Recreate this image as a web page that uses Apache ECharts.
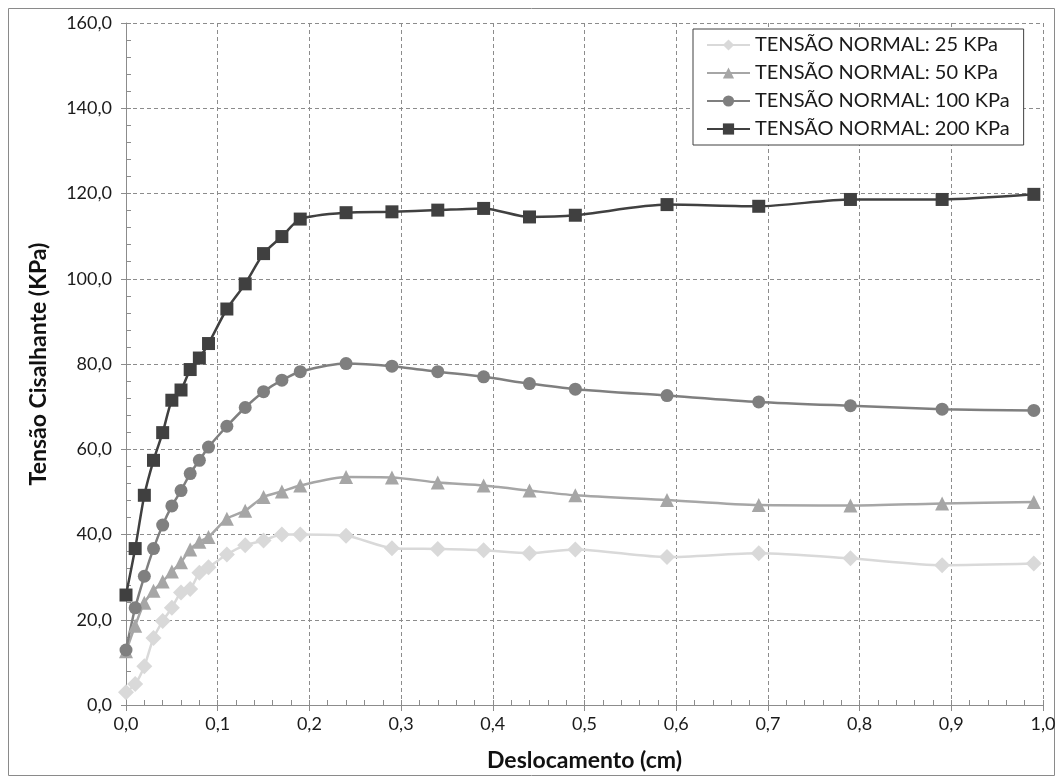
<!DOCTYPE html>
<html>
<head>
<meta charset="utf-8">
<script src="https://cdn.jsdelivr.net/npm/echarts@6/dist/echarts.min.js"></script>
<style>
  html, body { margin: 0; padding: 0; background: #fff; }
  #chart { width: 1063px; height: 784px; }
</style>
</head>
<body>
<div id="chart"></div>
<script>
// deslocamento (cm)
var desloc = [0, 0.01, 0.02, 0.03, 0.04, 0.05, 0.06, 0.07, 0.08, 0.09, 0.11, 0.13, 0.15, 0.17, 0.19,
              0.24, 0.29, 0.34, 0.39, 0.44, 0.49, 0.59, 0.69, 0.79, 0.89, 0.99]

// tensão cisalhante (KPa) para cada tensão normal
var t25  = [3.0, 4.9, 9.1, 15.7, 19.7, 22.8, 26.4, 27.2, 31.0, 32.3, 35.3, 37.5, 38.6, 40.0, 40.0,
            39.7, 36.8, 36.6, 36.3, 35.6, 36.5, 34.7, 35.6, 34.4, 32.8, 33.2]
var t50  = [12.6, 18.6, 24.0, 26.8, 29.0, 31.3, 33.5, 36.5, 38.3, 39.4, 43.7, 45.6, 48.8, 50.1, 51.5,
            53.5, 53.4, 52.2, 51.5, 50.3, 49.2, 48.1, 46.9, 46.8, 47.3, 47.6]
var t100 = [12.9, 22.8, 30.2, 36.7, 42.2, 46.7, 50.3, 54.3, 57.4, 60.5, 65.4, 69.8, 73.5, 76.2, 78.2,
            80.1, 79.5, 78.2, 77.0, 75.4, 74.1, 72.6, 71.1, 70.2, 69.4, 69.1]
var t200 = [25.8, 36.7, 49.2, 57.4, 63.9, 71.5, 73.9, 78.7, 81.4, 84.8, 92.9, 98.8, 105.9, 109.9, 114.0,
            115.5, 115.7, 116.1, 116.5, 114.5, 114.9, 117.4, 117.0, 118.6, 118.6, 119.8]

var nomes = ['TENSÃO NORMAL: 25 KPa', 'TENSÃO NORMAL: 50 KPa', 'TENSÃO NORMAL: 100 KPa', 'TENSÃO NORMAL: 200 KPa']

function pares(arr) {
    var out = []
    for (var i = 0; i < desloc.length; i++) {
        out.push([desloc[i], arr[i]])
    }
    return out
}

function virgula(v) {
    return v.toFixed(1).replace('.', ',')
}

var fonte = 'Lato, "Liberation Sans", sans-serif'
var cinzaEixo = '#8c8c8c'

function serie(nome, dados, cor, simbolo, tam) {
    return {
        name: nome,
        type: 'line',
        xAxisIndex: 0,
        yAxisIndex: 0,
        data: pares(dados),
        smooth: 0.25,
        symbol: simbolo,
        symbolSize: tam,
        showAllSymbol: true,
        lineStyle: { color: cor, width: 2.5 },
        itemStyle: { color: cor, borderWidth: 0 },
        emphasis: { disabled: true }
    }
}

var chart = echarts.init(document.getElementById('chart'))
var option = {
    animation: false,
    backgroundColor: '#fff',
    graphic: [{
        type: 'rect',
        shape: { x: 8.5, y: 8.5, width: 1046, height: 767 },
        style: { fill: 'none', stroke: '#8a8a8a', lineWidth: 1 },
        silent: true
    }],
    grid: { left: 126, right: 20, top: 23, bottom: 79 },
    legend: {
        data: nomes,
        orient: 'vertical',
        left: 693,
        top: 29,
        itemWidth: 43,
        itemHeight: 14,
        itemGap: 8,
        padding: [6, 14, 6, 13],
        backgroundColor: '#fff',
        borderColor: '#404040',
        borderWidth: 1,
        textStyle: { fontFamily: fonte, fontSize: 20, color: '#1a1a1a' },
        selectedMode: false
    },
    xAxis: [{
        type: 'value',
        min: 0, max: 1, interval: 0.1,
        name: 'Deslocamento (cm)',
        nameLocation: 'middle',
        nameGap: 44,
        nameTextStyle: { fontFamily: fonte, fontSize: 23, fontWeight: 'bold', color: '#111' },
        axisLine: { show: true, lineStyle: { color: cinzaEixo, width: 1 } },
        axisTick: { show: true, inside: false, length: 6, lineStyle: { color: cinzaEixo } },
        axisLabel: { formatter: virgula, fontFamily: fonte, fontSize: 18, color: '#1a1a1a', margin: 10 },
        splitLine: { show: true, lineStyle: { color: '#8c8c8c', type: [4, 3], width: 1 } }
    }, {
        // minor ticks, drawn inside
        type: 'value',
        position: 'bottom',
        min: 0, max: 1, interval: 0.02,
        axisLine: { show: false },
        axisTick: { show: true, inside: true, length: 5, lineStyle: { color: cinzaEixo } },
        axisLabel: { show: false },
        splitLine: { show: false }
    }],
    yAxis: [{
        type: 'value',
        min: 0, max: 160, interval: 20,
        name: 'Tensão Cisalhante (KPa)',
        nameLocation: 'middle',
        nameGap: 76,
        nameTextStyle: { fontFamily: fonte, fontSize: 23, fontWeight: 'bold', color: '#111' },
        axisLine: { show: true, lineStyle: { color: cinzaEixo, width: 1 } },
        axisTick: { show: true, inside: false, length: 5, lineStyle: { color: cinzaEixo } },
        axisLabel: { formatter: virgula, fontFamily: fonte, fontSize: 18, color: '#1a1a1a', margin: 14 },
        splitLine: { show: true, lineStyle: { color: '#8c8c8c', type: [4, 3], width: 1 } }
    }, {
        type: 'value',
        position: 'left',
        min: 0, max: 160, interval: 4,
        axisLine: { show: false },
        axisTick: { show: true, inside: true, length: 5, lineStyle: { color: cinzaEixo } },
        axisLabel: { show: false },
        splitLine: { show: false }
    }],
    series: [
        serie(nomes[0], t25, '#d9d9d9', 'diamond', 16),
        serie(nomes[1], t50, '#a6a6a6', 'triangle', 14),
        serie(nomes[2], t100, '#7f7f7f', 'circle', 13),
        serie(nomes[3], t200, '#404040', 'rect', 13)
    ]
}
chart.setOption(option)
</script>
</body>
</html>
